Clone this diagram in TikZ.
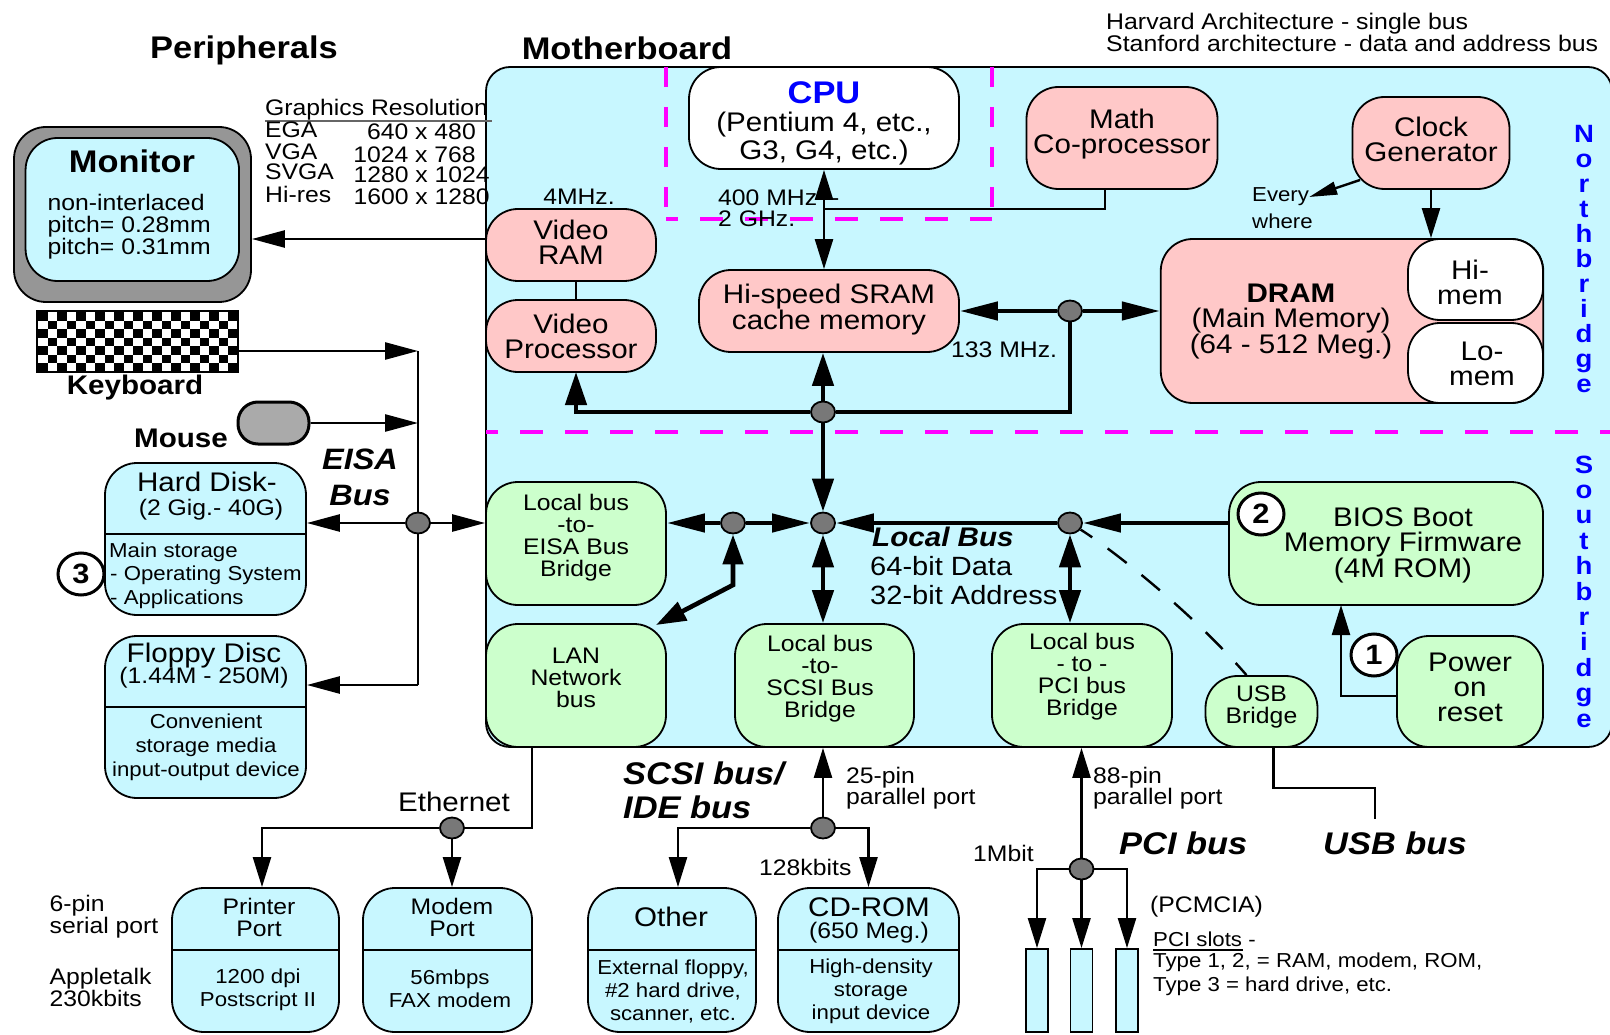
\documentclass[tikz,border=0pt]{standalone}
\usepackage{fontspec}
\setmainfont[FakeStretch=1.1]{Liberation Sans}
\usetikzlibrary{arrows.meta,shapes.geometric}
\definecolor{boardcyan}{RGB}{200,247,255}
\definecolor{chippink}{RGB}{255,200,200}
\definecolor{chipgreen}{RGB}{204,255,204}
\definecolor{casegray}{RGB}{150,150,150}
\definecolor{mousegray}{RGB}{170,170,170}
\definecolor{dotgray}{RGB}{120,120,120}
\definecolor{zonepink}{RGB}{255,0,255}
\definecolor{titleblue}{RGB}{0,0,255}
\tikzset{
  fxl/.style={font=\fontsize{31.3}{31}\selectfont\bfseries,inner sep=0pt},
  fxli/.style={font=\fontsize{31.3}{34}\selectfont\bfseries\itshape,inner sep=0pt},
  fl/.style={font=\fontsize{26.9}{25}\selectfont,align=center,inner sep=0pt},
  flb/.style={font=\fontsize{26.9}{25}\selectfont\bfseries,inner sep=0pt},
  fm/.style={font=\fontsize{22.5}{22}\selectfont,align=center,inner sep=0pt},
  fs/.style={font=\fontsize{20.2}{23}\selectfont,align=center,inner sep=0pt},
  lft/.style={anchor=west,align=left},
  lift/.style={text depth=#1},
  frame/.style={draw,line width=1.8pt,rounded corners=32pt,inner sep=0pt},
  pinkchip/.style={frame,fill=chippink},
  greenchip/.style={frame,fill=chipgreen},
  whitechip/.style={frame,fill=white},
  cyanchip/.style={frame,fill=boardcyan},
  dot/.style={draw,ellipse,fill=dotgray,line width=1.8pt,minimum width=24pt,minimum height=21pt,inner sep=0pt},
  badge/.style={draw,ellipse,fill=white,line width=3pt,minimum width=46pt,minimum height=42pt,inner sep=0pt,
    font=\fontsize{28}{28}\selectfont\bfseries},
  letter/.style={anchor=base,inner sep=0pt,text=titleblue,font=\fontsize{25}{25}\selectfont\bfseries},
  zone/.style={draw=zonepink,line width=4pt},
  wire/.style={line width=2.4pt,>={Triangle[length=30pt,width=18pt]}},
  wireh/.style={line width=2.6pt,>={Triangle[length=33pt,width=17pt]}},
  bus/.style={line width=4.6pt,>={Triangle[length=33pt,width=21pt]}},
  bush/.style={line width=4.6pt,>={Triangle[length=38pt,width=18pt]}}
}
\begin{document}
\begin{tikzpicture}[x=1pt,y=-1pt]
\useasboundingbox (0,0) rectangle (1610,1035);
% board and bridge zones
\node[cyanchip,rounded corners=24pt,minimum width=1126pt,minimum height=680pt] (board) at (1049,407) {};
\draw[zone,dash pattern=on 23pt off 22pt,dash phase=11pt] (486,432) -- (1610,432);
\draw[zone,dash pattern=on 23pt off 22pt,dash phase=11pt] (666,219) -- (992,219);
\draw[zone,dash pattern=on 20pt off 20pt] (666,67) -- (666,219);
\draw[zone,dash pattern=on 20pt off 20pt] (992,67) -- (992,219);
% headings
\node[fxl] (hperiph) at (244,50) {Peripherals};
\node[fxl] (hboard) at (627,48) {Motherboard};
\node[fm,lft,font=\fontsize{22.6}{22}\selectfont] (harvard) at (1106,24) {Harvard Architecture - single bus};
\node[fm,lft,font=\fontsize{22.6}{22}\selectfont] (stanford) at (1106,43) {Stanford architecture - data and address bus};
% graphics table
\node[fm,lft] (gres) at (265,110) {Graphics Resolution};
\draw[line width=1.8pt,draw=black!60] (265,121) -- (492,121);
\node[fm,lft] (gega) at (265,130) {EGA};
\node[fm,lft] (gvga) at (265,152) {VGA};
\node[fm,lft] (gsvga) at (265,172) {SVGA};
\node[fm,lft] (ghi) at (265,194) {Hi-res};
\node[fm,anchor=east] (rega) at (476,132) {640 x 480};
\node[fm,anchor=east] (rvga) at (476,155) {1024 x 768};
\node[fm,anchor=east] (rsvga) at (490,175) {1280 x 1024};
\node[fm,anchor=east] (rhi) at (490,197) {1600 x 1280};
% north bridge chips
\node[whitechip,fl,text height=88pt,minimum width=270pt,minimum height=102pt,font=\fontsize{26.9}{28}\selectfont] (cpu) at (824,118)
  {\textcolor{titleblue}{\fontsize{31.3}{31}\selectfont\bfseries CPU}\\(Pentium 4, etc.,\\G3, G4, etc.)};
\node[pinkchip,fl,lift=13pt,minimum width=191pt,minimum height=102pt] (math) at (1122,138) {Math\\Co-processor};
\node[pinkchip,fl,lift=8pt,minimum width=157pt,minimum height=92pt] (clock) at (1431,143) {Clock\\Generator};
\node[pinkchip,fl,lift=6pt,minimum width=170pt,minimum height=72pt] (vram) at (571,245) {Video\\RAM};
\node[pinkchip,fl,minimum width=170pt,minimum height=72pt] (vproc) at (571,336) {Video\\Processor};
\node[pinkchip,fl,lift=8pt,minimum width=260pt,minimum height=82pt] (sram) at (829,311) {Hi-speed SRAM\\cache memory};
\node[pinkchip,minimum width=382.5pt,minimum height=164pt] (dram) at (1352,321) {};
\node[fl] (dramt) at (1291,322) {{\bfseries DRAM}\\(Main Memory)\\(64 - 512 Meg.)};
\node[whitechip,minimum width=135pt,minimum height=81pt] (himem) at (1475.5,279.5) {};
\node[fl] (himemt) at (1470,282) {Hi-\\mem};
\node[whitechip,minimum width=135pt,minimum height=80pt] (lomem) at (1475.5,363) {};
\node[fl] (lomemt) at (1482,364) {Lo-\\mem};
\node[fm] (mhz) at (579,197) {4MHz.};
\node[fm,lft] (cpumhz) at (718,198) {400 MHz\hspace{14pt}-};
\node[fm,lft] (ghz) at (718,219) {2 GHz.};
\node[fm,lft] (sdmhz) at (951,350) {133 MHz.};
\node[fs,lft] (every) at (1252,197) {Every};
\node[fs,lft] (where) at (1252,221) {where};
% south bridge chips
\node[greenchip,fm,lift=17pt,minimum width=180pt,minimum height=123pt] (eisa) at (576,543.5) {Local bus\\-to-\\EISA Bus\\Bridge};
\node[greenchip,fm,lift=15pt,minimum width=180pt,minimum height=123pt] (lan) at (576,685.5) {LAN\\Network\\bus};
\node[greenchip,minimum width=179pt,minimum height=123pt] (scsi) at (824.5,685.5) {};
\node[fm] (scsil) at (820,679) {Local bus\\-to-\\SCSI Bus\\Bridge};
\node[greenchip,fm,lift=23pt,minimum width=180pt,minimum height=123pt] (pcib) at (1082,685.5) {Local bus\\- to -\\PCI bus\\Bridge};
\node[greenchip,fm,lift=14pt,minimum width=112pt,minimum height=71pt] (usb) at (1261.5,711.5) {USB\\Bridge};
\node[greenchip,minimum width=314pt,minimum height=123pt] (bios) at (1386,543.5) {};
\node[fl] (biost) at (1403,545) {BIOS Boot\\Memory Firmware\\(4M ROM)};
\node[greenchip,fl,lift=8pt,minimum width=146pt,minimum height=111pt] (power) at (1470,691.5) {Power\\on\\reset};
\node[badge] (one) at (1374,655) {1};
\node[badge] (two) at (1261,514) {2};
% bridge lettering
\foreach \ch [count=\i from 0] in {N,o,r,t,h,b,r,i,d,g,e}
  \node[letter] (north\i) at (1584,{143+24.9*\i}) {\ch};
\foreach \ch [count=\i from 0] in {S,o,u,t,h,b,r,i,d,g,e}
  \node[letter] (south\i) at (1584,{473+25.4*\i}) {\ch};
\node[flb,lft,font=\fontsize{26.9}{25}\selectfont\bfseries\itshape] (locb) at (872,537) {Local Bus};
\node[lft,inner sep=0pt,font=\fontsize{26.4}{29}\selectfont] (locd) at (870,581) {64-bit Data\\32-bit Address};
% peripherals
\node[frame,fill=casegray,minimum width=237pt,minimum height=175pt] (monitor) at (132.5,214.5) {};
\node[cyanchip,minimum width=213.5pt,minimum height=143pt] (screen) at (132.3,209.5) {};
\node[fxl] (monitort) at (132,161) {Monitor};
\node[fm,align=left,anchor=west] (monitorb) at (47.5,227) {non-interlaced\\pitch= 0.28mm\\pitch= 0.31mm};
\node[draw,fill=white,line width=1.8pt,minimum width=201pt,minimum height=61pt,inner sep=0pt] (kbd) at (137.5,341.5) {};
\foreach \c in {0,...,20}
  \foreach \r in {0,...,6} {
    \pgfmathtruncatemacro{\k}{mod(\c+\r,2)}
    \ifnum\k=0 \fill (38+9.5*\c,312+8.5*\r) rectangle ++(9.5,8.5); \fi
  }
\node[flb] (kbdt) at (135,388) {Keyboard};
\node[draw,fill=mousegray,line width=3pt,rounded corners=20pt,minimum width=71pt,minimum height=42pt,inner sep=0pt] (mouse) at (273.5,423) {};
\node[flb] (mouset) at (181,438) {Mouse};
\node[fxl,font=\fontsize{29.5}{36}\selectfont\bfseries\itshape,align=center] (eisat) at (360,477) {EISA\\Bus};
\node[cyanchip,minimum width=201pt,minimum height=152pt] (hdd) at (205.5,539) {};
\draw[line width=2.4pt] (hdd.west |- 0,534) -- (hdd.east |- 0,534);
\node[fl] (hddt) at (207,482) {Hard Disk-};
\node[fm] (hddg) at (211,509.5) {(2 Gig.- 40G)};
\node[fs,lft] (hdda) at (109,552) {Main storage};
\node[fs,lft] (hddb) at (110,575) {- Operating System};
\node[fs,lft] (hddc) at (110,599) {- Applications};
\node[badge] (three) at (81,574) {3};
\node[cyanchip,minimum width=201pt,minimum height=162pt] (floppy) at (205.5,717) {};
\draw[line width=2.4pt] (floppy.west |- 0,707) -- (floppy.east |- 0,707);
\node[fl] (floppyt) at (204,656) {Floppy Disc};
\node[fm] (floppyg) at (204,678) {(1.44M - 250M)};
\node[fs,font=\fontsize{20.2}{24}\selectfont] (floppyb) at (206,747.5) {Convenient\\storage media\\input-output device};
\node[cyanchip,minimum width=167pt,minimum height=144pt] (printer) at (255.5,960) {};
\draw[line width=2.4pt] (printer.west |- 0,950) -- (printer.east |- 0,950);
\node[fm] (printert) at (259,917) {Printer\\Port};
\node[fs] (printerb) at (258,990) {1200 dpi\\Postscript II};
\node[cyanchip,minimum width=169pt,minimum height=144pt] (modem) at (447.5,960) {};
\draw[line width=2.4pt] (modem.west |- 0,950) -- (modem.east |- 0,950);
\node[fm] (modemt) at (452,917) {Modem\\Port};
\node[fs] (modemb) at (450,989) {56mbps\\FAX modem};
\node[cyanchip,minimum width=168pt,minimum height=144pt] (other) at (672,960) {};
\draw[line width=2.4pt] (other.west |- 0,950) -- (other.east |- 0,950);
\node[fl] (othert) at (671,917) {Other};
\node[fs] (otherb) at (673,991) {External floppy,\\\#2 hard drive,\\scanner, etc.};
\node[cyanchip,minimum width=181pt,minimum height=144pt] (cdrom) at (868.5,960) {};
\draw[line width=2.4pt] (cdrom.west |- 0,950) -- (cdrom.east |- 0,950);
\node[fl] (cdromt) at (869,907) {CD-ROM};
\node[fm] (cdromg) at (869,933) {(650 Meg.)};
\node[fs] (cdromb) at (871,991) {High-density\\storage\\input device};
\node[cyanchip,rounded corners=0pt,minimum width=22pt,minimum height=83pt] (slota) at (1037,990.5) {};
\node[cyanchip,rounded corners=0pt,minimum width=22pt,minimum height=83pt] (slotb) at (1081.5,990.5) {};
\node[cyanchip,rounded corners=0pt,minimum width=22pt,minimum height=83pt] (slotc) at (1127,990.5) {};
% side labels
\node[fm,align=left,anchor=west] (serial) at (49.5,917) {6-pin\\serial port};
\node[fm,align=left,anchor=west] (apple) at (49.5,987) {Appletalk\\230kbits};
\node[fl] (ether) at (454,802) {Ethernet};
\node[fxli,align=left,anchor=west] (scsit) at (623,790) {SCSI bus/\\IDE bus};
\node[fm,align=left,anchor=west,font=\fontsize{22.5}{21}\selectfont] (pinsa) at (846,788) {25-pin\\parallel port};
\node[fm,align=left,anchor=west,font=\fontsize{22.5}{21}\selectfont] (pinsb) at (1093,788) {88-pin\\parallel port};
\node[fm,lft] (kbits) at (759,867) {128kbits};
\node[fm,lft] (mbit) at (973,853) {1Mbit};
\node[fxli,lft] (pcit) at (1119,843) {PCI bus};
\node[fxli,lft] (usbt) at (1323,843) {USB bus};
\node[fm,lft] (pcmcia) at (1150,907) {(PCMCIA)};
\node[fs,lft] (slotsh) at (1153,939) {PCI slots -};
\draw[line width=1.5pt] (1153,950) -- (1243,950);
\node[fs,lft] (slotsa) at (1153,962) {Type 1, 2, = RAM, modem, ROM,};
\node[fs,lft] (slotsb) at (1153,986) {Type 3 = hard drive, etc.};
% junctions
\node[dot] (jmem) at (1070,311) {};
\node[dot] (jhub) at (823,412) {};
\node[dot] (jlocal) at (823,523) {};
\node[dot] (jeisa) at (733,523) {};
\node[dot] (jpci) at (1070,523) {};
\node[dot] (jisa) at (418,523) {};
\node[dot] (jeth) at (452,828) {};
\node[dot] (jscsi) at (823,828) {};
\node[dot] (jslot) at (1081.5,869) {};
\coordinate (isatop) at (418,351);
\coordinate (isabot) at (418,685);
\coordinate (vpin) at (576,372);
\coordinate (mathout) at (1105,189);
\coordinate (mathbus) at (823,209);
\coordinate (clkout) at (1360,180);
\coordinate (lanbend) at (733,585);
\coordinate (lanin) at (656,625);
\coordinate (biosin) at (1341,605);
\coordinate (usbend) at (1375,819);
% north side connectors
\draw[bush,->] (jmem) -- (jmem -| sram.east);
\draw[bush,->] (jmem) -- (jmem -| dram.west);
\draw[bus] (jmem) |- (jhub);
\draw[bus,->] (jhub) -| (vpin);
\draw[bus,->] (jhub) -- (jhub |- sram.south);
\draw[bus,->] (jhub) -- (jlocal);
\draw[wire,<->] (cpu.south) -- (cpu.south |- sram.north);
\draw[wire] (mathout) |- (mathbus);
\draw[wire,->] (clock.south) -- (clock.south |- dram.north);
\draw[wire,>={Triangle[length=28pt,width=13pt]},->] (clkout) -- (every.east);
\draw[wire] ([xshift=5pt]vram.south) -- ([xshift=5pt]vproc.north);
\draw[wireh,->] ([yshift=6pt]vram.west) -- ([yshift=6pt]vram.west -| monitor.east);
% local bus connectors
\draw[bush,->] (bios.west |- jpci) -- (jpci);
\draw[bush,->] (jpci) -- (jlocal);
\draw[bush,->] (jeisa) -- (jlocal);
\draw[bush,->] (jeisa) -- (jeisa -| eisa.east);
\draw[bus,<->] (jlocal) -- (jlocal |- scsi.north);
\draw[bus,<->] (jpci) -- (jpci |- pcib.north);
\draw[bus,>={Triangle[length=30pt,width=20pt]},<->] (jeisa) -- (lanbend) -- (lanin);
\draw[line width=2.4pt,dash pattern=on 24pt off 19pt,dash phase=10pt] (jpci) .. controls (1110,548) and (1190,610) .. ([xshift=-15pt]usb.north);
\draw[wire,->] ([yshift=-4.5pt]power.west) -| (biosin);
\draw[wire] ([xshift=12pt]usb.south) -- ++(0,40) -| (usbend);
% peripheral connectors
\draw[wire] (isatop) -- (jisa);
\draw[wire] (jisa) -- (isabot);
\draw[wireh,->] (kbd.east |- isatop) -- (isatop);
\draw[wireh,->] (mouse.east) -- (mouse.east -| isatop);
\draw[wireh,->] (isabot) -- (isabot -| floppy.east);
\draw[wireh,->] (jisa) -- (jisa -| hdd.east);
\draw[wireh,->] (jisa) -- (jisa -| eisa.west);
\draw[wire] ([xshift=-44pt]lan.south) |- (jeth);
\draw[wire,->] (jeth) -| ([xshift=6.5pt]printer.north);
\draw[wire,->] (jeth) -- (jeth |- modem.north);
\draw[wire,->] (jscsi) -- (jscsi |- scsi.south);
\draw[wire,->] (jscsi) -| ([xshift=6pt]other.north);
\draw[wire,->] (jscsi) -| (cdrom.north);
\draw[wire,->] (jslot) -- (jslot |- pcib.south);
\draw[wire,->] (jslot) -| (slota.north);
\draw[wire,->] (jslot) -- (slotb.north);
\draw[wire,->] (jslot) -| (slotc.north);
\end{tikzpicture}
\end{document}
